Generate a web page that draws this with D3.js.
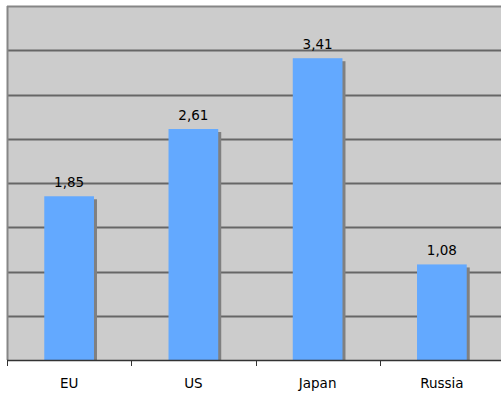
<!DOCTYPE html>
<html>
<head>
<meta charset="utf-8">
<script src="https://cdn.jsdelivr.net/npm/d3@7"></script>
<style>
  html, body { margin: 0; padding: 0; background: #ffffff; }
  svg { display: block; }
  text { font-family: Verdana, "DejaVu Sans", sans-serif; fill: #000; }
</style>
</head>
<body>
<svg id="chart" width="501" height="394"></svg>
<script>
// Chart data
const categories = ["EU", "US", "Japan", "Russia"];
const values = [1.85, 2.61, 3.41, 1.08];
const valueLabels = ["1,85", "2,61", "3,41", "1,08"];
const gridValues = [0.5, 1, 1.5, 2, 2.5, 3, 3.5, 4];

const svg = d3.select("#chart");
const plot = { left: 7, right: 504, top: 6, bottom: 360 };

const x = d3.scaleBand()
  .domain(categories)
  .range([plot.left, plot.right])
  .padding(0);

const y = d3.scaleLinear()
  .domain([0, 4])
  .range([plot.bottom, plot.top]);

// Plot background
svg.append("rect")
  .attr("x", plot.left)
  .attr("y", plot.top)
  .attr("width", plot.right - plot.left)
  .attr("height", plot.bottom - plot.top)
  .attr("fill", "#cccccc");

// Horizontal gridlines
svg.append("g")
  .selectAll("line")
  .data(gridValues)
  .join("line")
  .attr("x1", plot.left)
  .attr("x2", plot.right)
  .attr("y1", d => Math.round(y(d)) + 0.5)
  .attr("y2", d => Math.round(y(d)) + 0.5)
  .attr("stroke", d => d === 4 ? "#868686" : "#666666")
  .attr("stroke-width", 1.8);

// Left border of the plot area
svg.append("line")
  .attr("x1", plot.left + 0.5)
  .attr("x2", plot.left + 0.5)
  .attr("y1", plot.top)
  .attr("y2", plot.bottom)
  .attr("stroke", "#868686")
  .attr("stroke-width", 2);

const barW = x.bandwidth() * 0.4;
const barX = d => x(d) + (x.bandwidth() - barW) / 2;
const shadow = 3;

const bars = svg.append("g")
  .selectAll("g")
  .data(categories.map((c, i) => ({ c, v: values[i], label: valueLabels[i] })))
  .join("g");

// Drop shadow behind each bar
bars.append("rect")
  .attr("x", d => barX(d.c) + shadow)
  .attr("y", d => y(d.v) + shadow)
  .attr("width", barW)
  .attr("height", d => plot.bottom - y(d.v) - shadow)
  .attr("fill", "#808080");

bars.append("rect")
  .attr("x", d => barX(d.c))
  .attr("y", d => y(d.v))
  .attr("width", barW)
  .attr("height", d => plot.bottom - y(d.v))
  .attr("fill", "#63a9ff");

// Value labels above bars
bars.append("text")
  .attr("x", d => barX(d.c) + barW / 2)
  .attr("y", d => y(d.v) - 9)
  .attr("text-anchor", "middle")
  .attr("font-size", 13.5)
  .text(d => d.label);

// Category axis
const xAxis = d3.axisBottom(x).tickSize(0).tickPadding(0);
const gx = svg.append("g")
  .attr("transform", `translate(0,${plot.bottom})`)
  .call(xAxis);
gx.select(".domain").remove();
gx.selectAll("text")
  .attr("dy", null)
  .attr("y", 28)
  .attr("font-size", 13.5)
  .attr("font-family", "Verdana, 'DejaVu Sans', sans-serif")
  .attr("fill", "#000");

svg.append("line")
  .attr("x1", plot.left)
  .attr("x2", plot.right)
  .attr("y1", plot.bottom + 0.5)
  .attr("y2", plot.bottom + 0.5)
  .attr("stroke", "#333333")
  .attr("stroke-width", 1.5);

// Tick marks at category boundaries
const boundaries = categories.map(c => x(c)).concat([x.range()[1]]);
svg.append("g")
  .selectAll("line")
  .data(boundaries)
  .join("line")
  .attr("x1", d => Math.round(d) + 0.5)
  .attr("x2", d => Math.round(d) + 0.5)
  .attr("y1", plot.bottom)
  .attr("y2", plot.bottom + 6)
  .attr("stroke", "#333333")
  .attr("stroke-width", 1);
</script>
</body>
</html>
